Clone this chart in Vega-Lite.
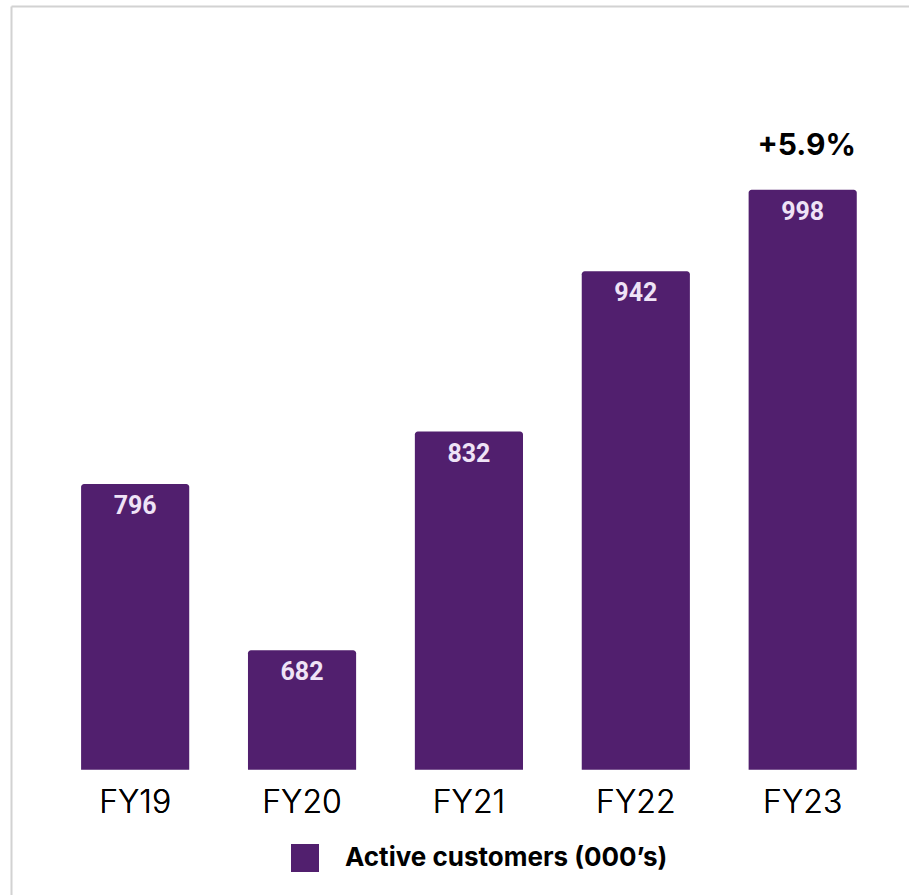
{
  "$schema": "https://vega.github.io/schema/vega-lite/v6.json",
  "width": 909,
  "height": 895,
  "autosize": {"type": "fit", "contains": "padding"},
  "padding": {"left": 11, "top": 6, "right": 0, "bottom": 0},
  "background": "white",
  "config": {"view": {"stroke": null}, "font": "Inter"},
  "data": {
    "values": [
      {"year": "FY19", "value": 796, "series": "Active customers (000’s)", "note": ""},
      {"year": "FY20", "value": 682, "series": "Active customers (000’s)", "note": ""},
      {"year": "FY21", "value": 832, "series": "Active customers (000’s)", "note": ""},
      {"year": "FY22", "value": 942, "series": "Active customers (000’s)", "note": ""},
      {"year": "FY23", "value": 998, "series": "Active customers (000’s)", "note": "+5.9%"}
    ]
  },
  "encoding": {
    "x": {
      "field": "year",
      "type": "nominal",
      "sort": null,
      "scale": {"paddingInner": 0.352, "paddingOuter": 0.3665, "align": 0.573},
      "axis": {
        "orient": "bottom",
        "offset": -125,
        "domain": false,
        "ticks": false,
        "labelAngle": 0,
        "labelFont": "Inter",
        "labelFontSize": 32,
        "labelFontWeight": 300,
        "labelColor": "#000000",
        "labelBaseline": "alphabetic",
        "labelPadding": 42,
        "title": null,
        "minExtent": 0,
        "maxExtent": 0
      }
    }
  },
  "layer": [
    {
      "mark": {"type": "bar", "cornerRadiusTopLeft": 3, "cornerRadiusTopRight": 3},
      "encoding": {
        "y": {
          "field": "value",
          "type": "quantitative",
          "scale": {"domain": [514, 1124], "zero": false, "nice": false},
          "axis": {
            "labels": false,
            "ticks": false,
            "grid": false,
            "title": null,
            "domain": true,
            "domainColor": "#d2d2d2",
            "domainWidth": 2,
            "minExtent": 0,
            "maxExtent": 0
          }
        },
        "y2": {"datum": 600},
        "color": {
          "field": "series",
          "type": "nominal",
          "scale": {"range": ["#511f6e"]},
          "legend": {
            "orient": "none",
            "legendX": 280,
            "legendY": 838,
            "title": null,
            "symbolType": "square",
            "symbolSize": 784,
            "symbolStrokeWidth": 0,
            "symbolOpacity": 1,
            "labelFont": "Inter",
            "labelFontSize": 26,
            "labelFontWeight": "bold",
            "labelColor": "#000000",
            "labelOffset": 26,
            "labelLimit": 0
          }
        }
      }
    },
    {
      "mark": {"type": "text", "font": "Roboto", "fontWeight": "bold", "fontSize": 25, "color": "#efe3f6", "baseline": "alphabetic", "dy": 30},
      "encoding": {
        "y": {"field": "value", "type": "quantitative"},
        "text": {"field": "value", "type": "quantitative"}
      }
    },
    {
      "transform": [{"filter": "datum.note != ''"}],
      "mark": {"type": "text", "font": "Inter", "fontWeight": "bold", "fontSize": 30, "color": "#000000", "baseline": "alphabetic", "dy": -35, "dx": 4},
      "encoding": {
        "x": {
          "field": "year",
          "type": "nominal",
          "sort": null,
          "axis": {
            "orient": "top",
            "labels": false,
            "ticks": false,
            "grid": false,
            "title": null,
            "domain": true,
            "domainColor": "#d2d2d2",
            "domainWidth": 2,
            "minExtent": 0,
            "maxExtent": 0
          }
        },
        "y": {"field": "value", "type": "quantitative"},
        "text": {"field": "note"}
      }
    }
  ]
}
